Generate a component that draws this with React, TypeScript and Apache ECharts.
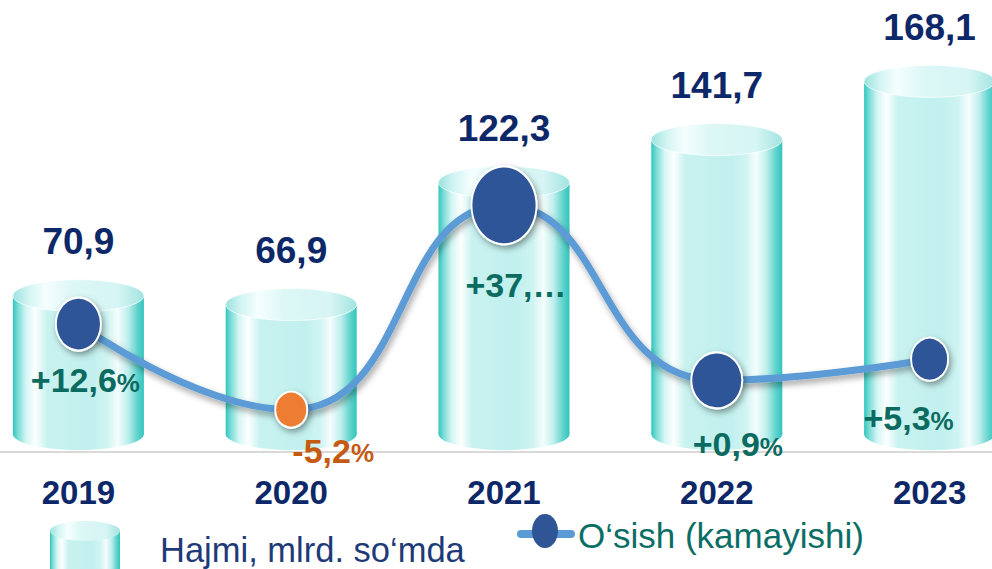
import React, { useEffect, useRef } from "react";
import * as echarts from "echarts";

// ---- data ----
const years = ["2019", "2020", "2021", "2022", "2023"];
const volume = [70.9, 66.9, 122.3, 141.7, 168.1];
const growth = [12.6, -5.2, 37.3, 0.9, 5.3];
const growthLabels = ["+12,6%", "-5,2%", "+37,…", "+0,9%", "+5,3%"];
const volumeName = "Hajmi, mlrd. so‘mda";
const growthName = "O‘sish (kamayishi)";

// ---- styling (not data) ----
const markerSizes = [[45, 53], [32, 36], [65, 78], [51, 56], [37, 43]];
const labelOffsets = [[7, 56], [42, 41], [12, 80], [21, 64], [-21, 59]];
const FONT = '"Liberation Sans", Arial, sans-serif';
const NAVY = "#0d2868";
const TEAL_TXT = "#0c6b60";
const ORANGE_TXT = "#c55a11";
const SHIFT = 28; // chart canvas starts 28px left of the page

const bodyGrad = {
  type: "linear", x: 0, y: 0, x2: 1, y2: 0,
  colorStops: [
    { offset: 0, color: "#30c6bf" },
    { offset: 0.04, color: "#7cdcd7" },
    { offset: 0.1, color: "#d3f6f4" },
    { offset: 0.17, color: "#fdffff" },
    { offset: 0.26, color: "#c8f2f0" },
    { offset: 0.6, color: "#c1f0ee" },
    { offset: 0.72, color: "#cff4f2" },
    { offset: 0.8, color: "#f5fdfd" },
    { offset: 0.88, color: "#bdeeec" },
    { offset: 0.95, color: "#62d3cd" },
    { offset: 1, color: "#33c4be" },
  ],
};
const topGrad = {
  type: "linear", x: 0, y: 0, x2: 1, y2: 0,
  colorStops: [
    { offset: 0, color: "#9be2de" },
    { offset: 0.12, color: "#d3f5f3" },
    { offset: 0.25, color: "#f6fefe" },
    { offset: 0.45, color: "#dcf7f6" },
    { offset: 0.8, color: "#d6f5f4" },
    { offset: 1, color: "#a2e4e0" },
  ],
};

const fmt = (v: number) => v.toFixed(1).replace(".", ",");

export default function App() {
  const ref = useRef<HTMLDivElement>(null);
  useEffect(() => {
    if (!ref.current) return;
    document.documentElement.style.overflow = "hidden";
    document.body.style.overflow = "hidden";
    const chart = echarts.init(ref.current, null, { renderer: "svg" });
    const option: any = {
      animation: false,
      backgroundColor: "#ffffff",
      grid: { left: 0, right: 0, top: 0, bottom: 117, containLabel: false },
      xAxis: {
        type: "category",
        data: years,
        axisTick: { show: false },
        axisLine: { show: true, lineStyle: { color: "#d9d9d9", width: 2 } },
        axisLabel: {
          margin: 24,
          fontSize: 33,
          fontWeight: "bold",
          fontFamily: FONT,
          color: NAVY,
        },
      },
      yAxis: [
        { type: "value", min: 0, max: 205, show: false, splitLine: { show: false } },
        { type: "value", min: -14, max: 80, show: false, splitLine: { show: false } },
      ],
      series: [
        {
          name: volumeName,
          type: "custom",
          z: 2,
          encode: { x: 0, y: 1 },
          data: volume.map((v, i) => [i, v]),
          renderItem: (params: any, api: any) => {
            const idx = api.value(0);
            const v = api.value(1);
            const top = api.coord([idx, v]);
            const base = api.coord([idx, 0]);
            const w = 131;
            const ry = 16;
            const cx = top[0];
            const ty = top[1];
            const by = base[1] - 2 - ry;
            return {
              type: "group",
              children: [
                { type: "rect", shape: { x: cx - w / 2, y: ty, width: w, height: by - ty }, style: { fill: bodyGrad } },
                { type: "ellipse", shape: { cx, cy: by, rx: w / 2, ry }, style: { fill: bodyGrad } },
                {
                  type: "ellipse",
                  shape: { cx, cy: ty, rx: w / 2, ry },
                  style: { fill: topGrad, stroke: "rgba(255,255,255,0.7)", lineWidth: 1 },
                },
                {
                  type: "text",
                  x: cx,
                  y: ty - ry - 38,
                  style: {
                    text: fmt(v),
                    fill: NAVY,
                    fontSize: 37,
                    fontWeight: "bold",
                    fontFamily: FONT,
                    align: "center",
                    verticalAlign: "middle",
                  },
                },
              ],
            };
          },
        },
        {
          name: growthName,
          type: "line",
          yAxisIndex: 1,
          z: 3,
          smooth: 0.5,
          symbol: "circle",
          lineStyle: {
            color: "#5b9bd5",
            width: 7,
            shadowColor: "rgba(0,0,0,0.35)",
            shadowBlur: 6,
            shadowOffsetX: 2,
            shadowOffsetY: 4,
          },
          itemStyle: {
            color: "#2f5597",
            borderColor: "#ffffff",
            borderWidth: 2,
            shadowColor: "rgba(0,0,0,0.4)",
            shadowBlur: 6,
            shadowOffsetX: 2,
            shadowOffsetY: 3,
          },
          label: {
            show: true,
            position: "inside",
            fontFamily: FONT,
            formatter: (p: any) => {
              const t = growthLabels[p.dataIndex];
              const o = p.dataIndex === 1 ? "o" : "";
              if (t.endsWith("%")) {
                return `{${o}n|${t.slice(0, -1)}}{${o}p|%}`;
              }
              return `{${o}n|${t}}`;
            },
            rich: {
              n: { fontSize: 34, fontWeight: "bold", fontFamily: FONT, color: TEAL_TXT },
              p: { fontSize: 26, fontWeight: "bold", fontFamily: FONT, color: TEAL_TXT, padding: [5, 0, 0, 0] },
              on: { fontSize: 34, fontWeight: "bold", fontFamily: FONT, color: ORANGE_TXT },
              op: { fontSize: 26, fontWeight: "bold", fontFamily: FONT, color: ORANGE_TXT, padding: [5, 0, 0, 0] },
            },
          },
          data: growth.map((g, i) => ({
            value: g,
            symbolSize: markerSizes[i],
            itemStyle: i === 1 ? { color: "#ed7d31" } : undefined,
            label: { offset: labelOffsets[i] },
          })),
        },
      ],
      graphic: [
        // legend: cylinder icon
        {
          type: "group",
          silent: true,
          children: [
            { type: "rect", shape: { x: 50 + SHIFT, y: 531, width: 70, height: 40 }, style: { fill: bodyGrad } },
            { type: "ellipse", shape: { cx: 85 + SHIFT, cy: 531, rx: 35, ry: 10 }, style: { fill: topGrad } },
          ],
        },
        {
          type: "text",
          x: 160 + SHIFT,
          y: 550,
          style: {
            text: volumeName,
            fill: "#1f3a78",
            fontSize: 34.5,
            fontFamily: FONT,
            verticalAlign: "middle",
          },
        },
        // legend: line icon
        {
          type: "line",
          shape: { x1: 521 + SHIFT, y1: 534, x2: 571 + SHIFT, y2: 534 },
          style: { stroke: "#5b9bd5", lineWidth: 8, lineCap: "round" },
        },
        {
          type: "ellipse",
          shape: { cx: 545 + SHIFT, cy: 531, rx: 13, ry: 17 },
          style: { fill: "#2f5597" },
        },
        {
          type: "text",
          x: 578 + SHIFT,
          y: 535,
          style: {
            text: growthName,
            fill: "#0b6e66",
            fontSize: 35,
            fontFamily: FONT,
            verticalAlign: "middle",
          },
        },
      ],
    };
    chart.setOption(option);
    return () => chart.dispose();
  }, []);
  return (
    <div
      ref={ref}
      style={{ position: "fixed", left: -SHIFT, top: 0, width: 1064, height: 569, background: "#fff" }}
    />
  );
}
